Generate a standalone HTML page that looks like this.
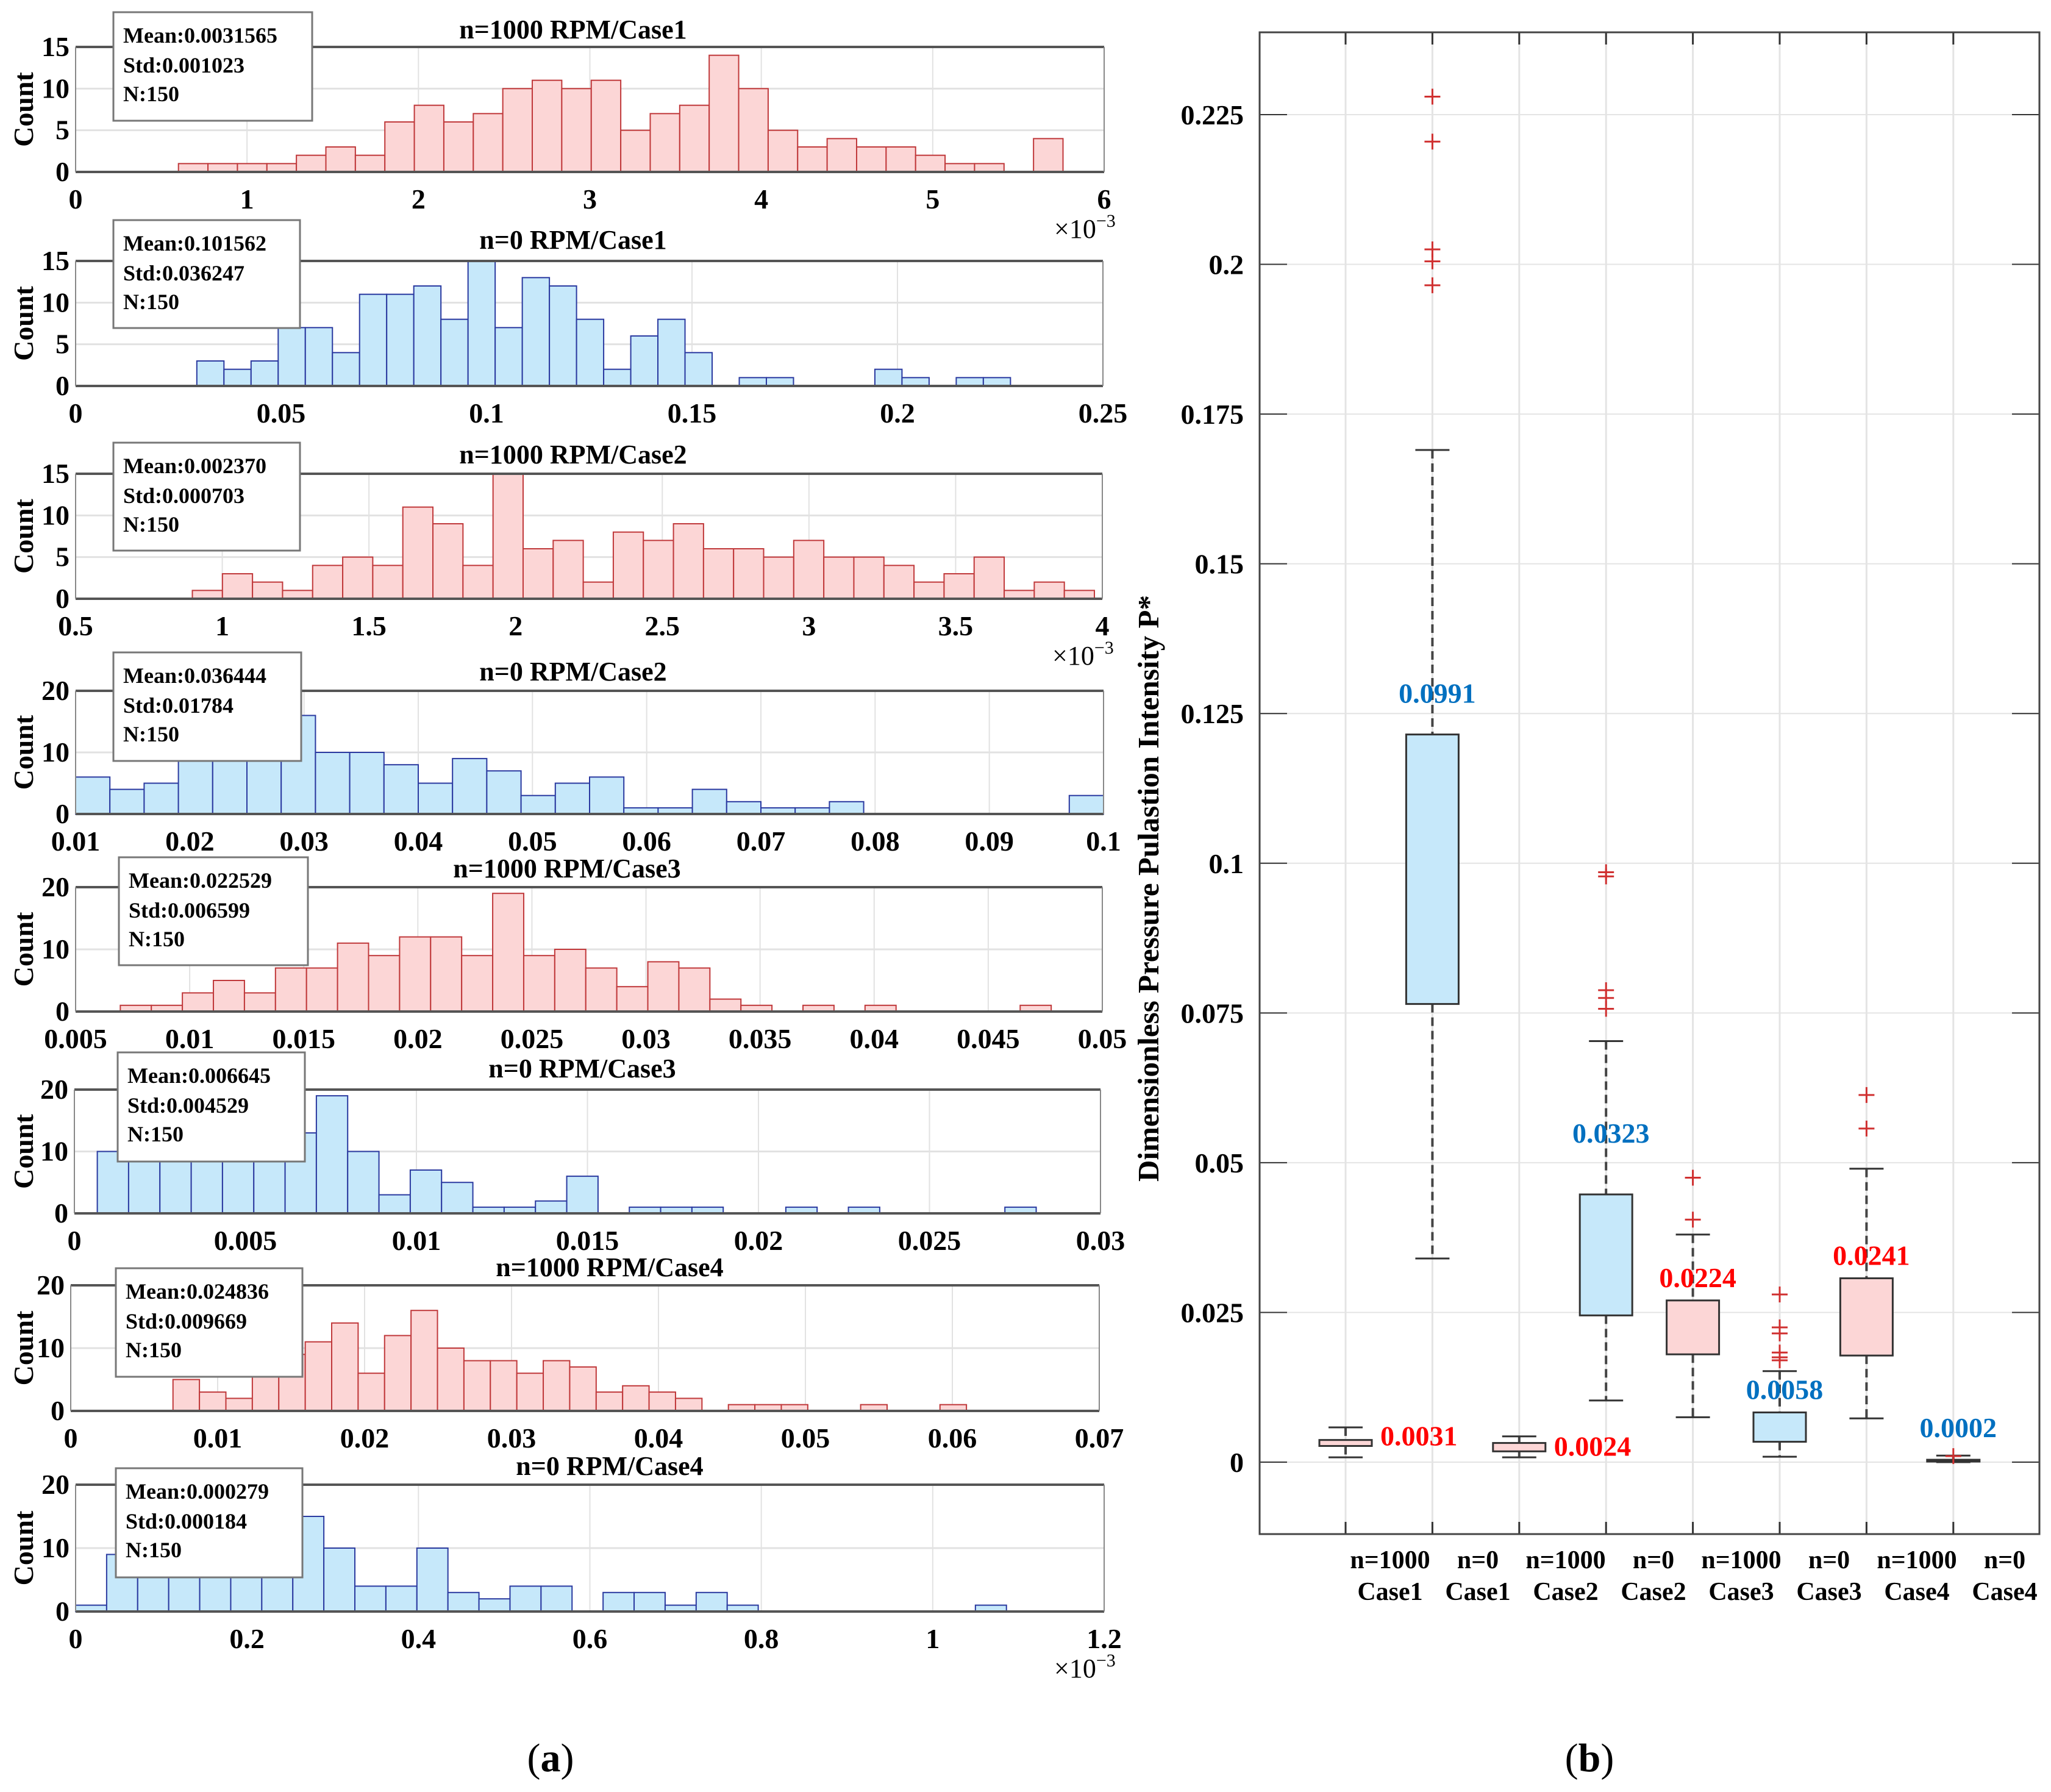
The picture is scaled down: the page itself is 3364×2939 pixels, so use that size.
<!DOCTYPE html>
<html><head><meta charset="utf-8"><style>
html,body{margin:0;padding:0;background:#fff;}
svg{display:block;font-family:"Liberation Serif",serif;}
</style></head><body>
<svg id="fig" width="3364" height="2939" viewBox="0 0 3364 2939" xmlns="http://www.w3.org/2000/svg">
<text x="903" y="2905" font-size="66" text-anchor="middle">(<tspan font-weight="bold">a</tspan>)</text>
<text x="2607" y="2905" font-size="66" text-anchor="middle">(<tspan font-weight="bold">b</tspan>)</text>
</svg>
<script>
// ---------- histogram data ----------
const h1Counts=[1,1,1,1,2,3,2,6,8,6,7,10,11,10,11,5,7,8,14,10,5,3,4,3,3,2,1,1,0,4];
const h2Counts=[3,2,3,7,7,4,11,11,12,8,15,7,13,12,8,2,6,8,4,0,1,1,0,0,0,2,1,0,1,1];
const h3Counts=[1,3,2,1,4,5,4,11,9,4,15,6,7,2,8,7,9,6,6,5,7,5,5,4,2,3,5,1,2,1];
const h4Counts=[6,4,5,12,15,14,16,10,10,8,5,9,7,3,5,6,1,1,4,2,1,1,2,0,0,0,0,0,0,3];
const h5Counts=[1,1,3,5,3,7,7,11,9,12,12,9,19,9,10,7,4,8,7,2,1,0,1,0,1,0,0,0,0,1];
const h6Counts=[10,13,14,13,14,13,13,19,10,3,7,5,1,1,2,6,0,1,1,1,0,0,1,0,1,0,0,0,0,1];
const h7Counts=[5,3,2,8,9,11,14,6,12,16,10,8,8,6,8,7,3,4,3,2,0,1,1,1,0,0,1,0,0,1];
const h8Counts=[1,9,14,14,15,14,15,15,10,4,4,10,3,2,4,4,0,3,3,1,3,1,0,0,0,0,0,0,0,1];
const binStarts=[0.6,0.0295,0.898,0.01,0.00696,0.00067,0.00696,0];
const binWidths=[0.172,0.0066,0.1025,0.003,0.00136,0.000915,0.0018,0.0362];
const xMins=[0,0,0.5,0.01,0.005,0,0,0];
const xMaxs=[6,0.25,4,0.1,0.05,0.03,0.07,1.2];
const yMaxs=[15,15,15,20,20,20,20,20];
const xTickLists=[[0,1,2,3,4,5,6],[0,0.05,0.1,0.15,0.2,0.25],[0.5,1,1.5,2,2.5,3,3.5,4],[0.01,0.02,0.03,0.04,0.05,0.06,0.07,0.08,0.09,0.1],[0.005,0.01,0.015,0.02,0.025,0.03,0.035,0.04,0.045,0.05],[0,0.005,0.01,0.015,0.02,0.025,0.03],[0,0.01,0.02,0.03,0.04,0.05,0.06,0.07],[0,0.2,0.4,0.6,0.8,1,1.2]];
const yTickLists=[[0,5,10,15],[0,5,10,15],[0,5,10,15],[0,10,20],[0,10,20],[0,10,20],[0,10,20],[0,10,20]];
const titles=["n=1000 RPM/Case1","n=0 RPM/Case1","n=1000 RPM/Case2","n=0 RPM/Case2","n=1000 RPM/Case3","n=0 RPM/Case3","n=1000 RPM/Case4","n=0 RPM/Case4"];
const means=["0.0031565","0.101562","0.002370","0.036444","0.022529","0.006645","0.024836","0.000279"];
const stds=["0.001023","0.036247","0.000703","0.01784","0.006599","0.004529","0.009669","0.000184"];
const exps=[true,false,true,false,false,false,false,true];
// ---------- box plot data ----------
const boxCats=["n=1000|Case1","n=0|Case1","n=1000|Case2","n=0|Case2","n=1000|Case3","n=0|Case3","n=1000|Case4","n=0|Case4"];
const boxQ1=[0.0027,0.0765,0.0018,0.0245,0.018,0.0034,0.0178,0.0001];
const boxQ3=[0.0037,0.1215,0.0032,0.0447,0.027,0.0083,0.0307,0.0004];
const boxLo=[0.0008,0.034,0.0008,0.0103,0.0075,0.0009,0.0073,0.0];
const boxHi=[0.0058,0.169,0.0043,0.0703,0.038,0.0152,0.049,0.0011];
const boxOut=[[],[0.228,0.2205,0.2025,0.2005,0.1965],[],[0.0985,0.0978,0.0788,0.0775,0.0757],[0.0475,0.0405],[0.028,0.0225,0.0215,0.0183,0.0175,0.017],[0.0613,0.0557],[0.001]];
const boxLabels=["0.0031","0.0991","0.0024","0.0323","0.0224","0.0058","0.0241","0.0002"];
const boxYTicks=[0,0.025,0.05,0.075,0.1,0.125,0.15,0.175,0.2,0.225];
const boxYTickLabels=["0","0.025","0.05","0.075","0.1","0.125","0.15","0.175","0.2","0.225"];

const NS="http://www.w3.org/2000/svg";
const svg=document.getElementById('fig');
function mk(tag,attrs,parent,text){const e=document.createElementNS(NS,tag);for(const k in attrs)e.setAttribute(k,attrs[k]);if(text!==undefined)e.textContent=text;(parent||svg).appendChild(e);return e;}

const panels=[
 {l:124,r:1811,t:77,b:282,lx:186,lw:326,ly:20,lh:178,tx:940,ty:63},
 {l:124,r:1809,t:428,b:633,lx:186,lw:306,ly:361,lh:177,tx:940,ty:408},
 {l:124,r:1808,t:777,b:982,lx:186,lw:306,ly:726,lh:177,tx:940,ty:760},
 {l:124,r:1810,t:1133,b:1335,lx:186,lw:308,ly:1070,lh:178,tx:940,ty:1116},
 {l:124,r:1808,t:1455,b:1659,lx:195,lw:310,ly:1406,lh:177,tx:930,ty:1439},
 {l:122,r:1805,t:1787,b:1990,lx:193,lw:307,ly:1726,lh:179,tx:955,ty:1767},
 {l:116,r:1803,t:2108,b:2314,lx:190,lw:306,ly:2080,lh:178,tx:1000,ty:2093},
 {l:124,r:1811,t:2435,b:2643,lx:190,lw:306,ly:2408,lh:179,tx:1000,ty:2419}];
const allCounts=[h1Counts,h2Counts,h3Counts,h4Counts,h5Counts,h6Counts,h7Counts,h8Counts];

panels.forEach((p,i)=>{
  const g=mk('g',{});
  
  
  const xs=v=>p.l+(v-xMins[i])/(xMaxs[i]-xMins[i])*(p.r-p.l);
  const ys=v=>p.b-v/yMaxs[i]*(p.b-p.t);
  xTickLists[i].forEach(v=>{const x=xs(v);const gl=mk('line',{x1:x,x2:x,y1:p.t,y2:p.b,stroke:'#e2e2e2','stroke-width':2},g);});
  yTickLists[i].forEach(v=>{const y=ys(v);const gl=mk('line',{x1:p.l,x2:p.r,y1:y,y2:y,stroke:'#e2e2e2','stroke-width':3},g);});
  const red=(i%2===0);
  const fill=red?'#fcd6d6':'#c6e8fa', st=red?'#c0393b':'#2b3aa0';
  allCounts[i].forEach((c,k)=>{
    if(c<=0)return;
    const x0=xs(binStarts[i]+k*binWidths[i]), x1=xs(binStarts[i]+(k+1)*binWidths[i]);
    const b=mk('rect',{x:x0,y:ys(c),width:x1-x0,height:p.b-ys(c),fill:fill,stroke:st,'stroke-width':2},g);
    
    
  });
  mk('line',{x1:p.l,x2:p.r,y1:p.t,y2:p.t,stroke:'#555','stroke-width':4},g);
  mk('line',{x1:p.l,x2:p.r,y1:p.b,y2:p.b,stroke:'#555','stroke-width':4},g);
  mk('line',{x1:p.l,x2:p.l,y1:p.t,y2:p.b,stroke:'#888','stroke-width':2},g);
  mk('line',{x1:p.r,x2:p.r,y1:p.t,y2:p.b,stroke:'#888','stroke-width':2},g);
  xTickLists[i].forEach(v=>{const t=mk('text',{x:xs(v),y:p.b+60,'font-size':46,'font-weight':'bold','text-anchor':'middle'},g,String(v));});
  yTickLists[i].forEach(v=>{const t=mk('text',{x:p.l-10,y:ys(v)+15,'font-size':46,'font-weight':'bold','text-anchor':'end'},g,String(v));});
  const yl=mk('text',{x:0,y:0,'font-size':46,'font-weight':'bold','text-anchor':'middle',transform:`translate(54,${(p.t+p.b)/2}) rotate(-90)`},g,'Count');
  
  mk('rect',{x:p.tx-200,y:p.ty-38,width:400,height:48,fill:'#fff'},g);
  const tt=mk('text',{x:p.tx,y:p.ty,'font-size':44,'font-weight':'bold','text-anchor':'middle'},g,titles[i]);
  
  if(exps[i]){const ex=mk('text',{x:p.r-82,y:p.b+108,'font-size':44,'text-anchor':'start'},g,'×10');mk('tspan',{dy:-18,'font-size':30},ex,'−3');}
  const lg=mk('g',{},g);
  
  
  mk('rect',{x:p.lx,y:p.ly,width:p.lw,height:p.lh,fill:'#fff',stroke:'#777','stroke-width':3},lg);
  mk('text',{x:p.lx+16,y:p.ly+50,'font-size':36,'font-weight':'bold'},lg,'Mean:'+means[i]);
  mk('text',{x:p.lx+16,y:p.ly+99,'font-size':36,'font-weight':'bold'},lg,'Std:'+stds[i]);
  mk('text',{x:p.lx+16,y:p.ly+146,'font-size':36,'font-weight':'bold'},lg,'N:150');
});

// ---------- box plot ----------
const B={l:2066,r:3345,t:53,b:2516,y0:2398,y1:188};
const bg=mk('g',{});


const ysB=v=>B.y0-v/0.225*(B.y0-B.y1);
const catX=k=>2207+k*142.4;
boxYTicks.forEach((v,k)=>{const y=ysB(v);
  const gl=mk('line',{x1:B.l,x2:B.r,y1:y,y2:y,stroke:'#e4e4e4','stroke-width':2},bg);
  mk('line',{x1:B.l,x2:B.l+45,y1:y,y2:y,stroke:'#333','stroke-width':2},bg);
  mk('line',{x1:B.r-45,x2:B.r,y1:y,y2:y,stroke:'#333','stroke-width':2},bg);
  const t=mk('text',{x:2040,y:y+16,'font-size':46,'font-weight':'bold','text-anchor':'end'},bg,boxYTickLabels[k]);});
boxCats.forEach((c,k)=>{const x=catX(k);
  const gl=mk('line',{x1:x,x2:x,y1:B.t,y2:B.b,stroke:'#e4e4e4','stroke-width':3},bg);
  mk('line',{x1:x,x2:x,y1:B.t,y2:B.t+20,stroke:'#333','stroke-width':3},bg);
  mk('line',{x1:x,x2:x,y1:B.b-20,y2:B.b,stroke:'#333','stroke-width':3},bg);
  const parts=c.split('|');const lx=2280+k*144;
  const t1=mk('text',{x:lx,y:2572,'font-size':42,'font-weight':'bold','text-anchor':'middle'},bg,parts[0]);
  const t2=mk('text',{x:lx,y:2624,'font-size':42,'font-weight':'bold','text-anchor':'middle'},bg,parts[1]);
});
mk('rect',{x:B.l,y:B.t,width:B.r-B.l,height:B.b-B.t,fill:'none',stroke:'#444','stroke-width':3},bg);
const labelGap=[0,52,0,85,22,22,22,37];
boxCats.forEach((c,k)=>{
  const x=catX(k),blue=(k%2===1);
  const g=mk('g',{},bg);
  
  
  mk('line',{x1:x,x2:x,y1:ysB(boxHi[k]),y2:ysB(boxQ3[k]),stroke:'#444','stroke-width':4,'stroke-dasharray':'14,8'},g);
  mk('line',{x1:x,x2:x,y1:ysB(boxQ1[k]),y2:ysB(boxLo[k]),stroke:'#444','stroke-width':4,'stroke-dasharray':'14,8'},g);
  mk('line',{x1:x-28,x2:x+28,y1:ysB(boxHi[k]),y2:ysB(boxHi[k]),stroke:'#333','stroke-width':3},g);
  mk('line',{x1:x-28,x2:x+28,y1:ysB(boxLo[k]),y2:ysB(boxLo[k]),stroke:'#333','stroke-width':3},g);
  const top=ysB(boxQ3[k]),bot=ysB(boxQ1[k]);
  mk('rect',{x:x-43,y:top,width:86,height:Math.max(bot-top,3),fill:blue?'#c6e8fa':'#fcd6d6',stroke:'#333','stroke-width':3},g);
  boxOut[k].forEach(v=>{const y=ysB(v);
    const o=mk('path',{d:`M${x-13},${y}H${x+13}M${x},${y-13}V${y+13}`,stroke:'#d03030','stroke-width':3},g);
    });
  let lx,ly,anchor='middle';
  if(k===0||k===2){lx=x+57;ly=ysB((boxQ1[k]+boxQ3[k])/2)+(k===0?4:14);anchor='start';}
  else{lx=x+8;ly=top-labelGap[k];}
  const t=mk('text',{x:lx,y:ly,'font-size':46,'font-weight':'bold','text-anchor':anchor,fill:blue?'#0070c0':'#ff0000'},g,boxLabels[k]);
  
});
const yt=mk('text',{x:0,y:0,'font-size':49,'font-weight':'bold','text-anchor':'middle',transform:'translate(1900,1457) rotate(-90)'},bg,'Dimensionless Pressure Pulastion Intensity P*');

</script>
</body></html>
